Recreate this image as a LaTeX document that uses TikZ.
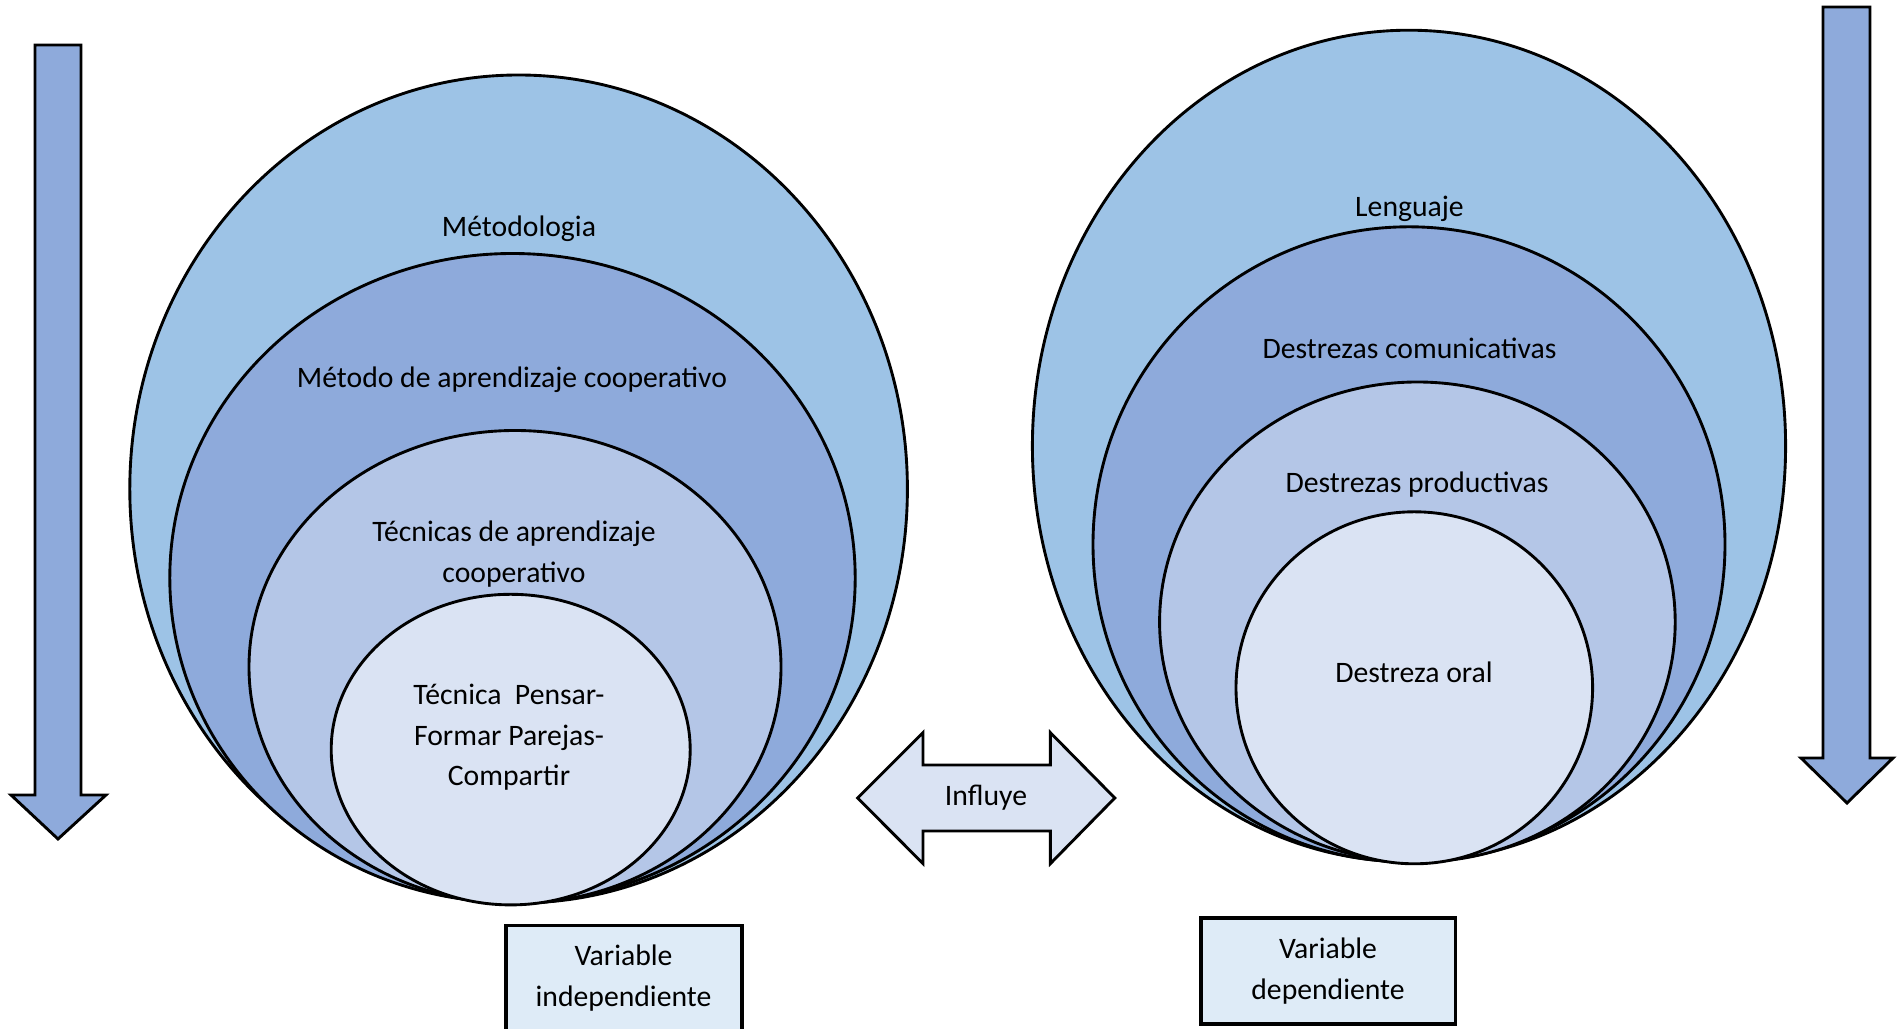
\documentclass[tikz,border=0pt]{standalone}
\usepackage{fontspec}
\setmainfont{Carlito}
\usetikzlibrary{calc}

\definecolor{skyblue}{HTML}{9DC3E6}
\definecolor{midblue}{HTML}{8EAADB}
\definecolor{paleblue}{HTML}{B4C6E7}
\definecolor{iceblue}{HTML}{DAE3F3}
\definecolor{boxblue}{HTML}{DEEBF7}

\begin{document}
\begin{tikzpicture}[x=0.33pt,y=-0.33pt,
	ring/.style={draw=black,line width=0.95pt},
	lbl/.style={font=\fontsize{9.8}{13.4}\selectfont,align=center,inner sep=0pt},
	varbox/.style={draw=black,line width=1pt,fill=boxblue}]
	\useasboundingbox (0,0) rectangle (1902,1029);

	% side arrows
	\filldraw[ring,fill=midblue] (35,45) -- (81,45) -- (81,795) -- (106,795) -- (58,839) -- (11,795) -- (35,795) -- cycle;
	\filldraw[ring,fill=midblue] (1823,7) -- (1870,7) -- (1870,758) -- (1893,758) -- (1847,803) -- (1801,758) -- (1823,758) -- cycle;

	% independent variable
	\filldraw[ring,fill=skyblue] (518.6,489) ellipse [x radius=388.8, y radius=414];
	\filldraw[ring,fill=midblue] (512.5,578) ellipse [x radius=342.7, y radius=324.5];
	\filldraw[ring,fill=paleblue] (515,667) ellipse [x radius=266, y radius=236.5];
	\filldraw[ring,fill=iceblue] (510.7,749.6) ellipse [x radius=179.5, y radius=155.3];
	\node[lbl] (metodologia) at (519,229) {Métodologia};
	\node[lbl] (metodo) at (512,380) {Método de aprendizaje cooperativo};
	\node[lbl] (tecnicas) at (514,554) {Técnicas de aprendizaje\\cooperativo};
	\node[lbl] (tecnica) at (509,737.5) {Técnica\ \ Pensar-\\Formar Parejas-\\Compartir};

	% dependent variable
	\filldraw[ring,fill=skyblue] (1409,446) ellipse [x radius=376.6, y radius=415.8];
	\filldraw[ring,fill=midblue] (1409,544.4) ellipse [x radius=316, y radius=317.6];
	\filldraw[ring,fill=paleblue] (1417.4,622) ellipse [x radius=257.8, y radius=240];
	\filldraw[ring,fill=iceblue] (1414.3,687.8) ellipse [x radius=178.3, y radius=176];
	\node[lbl] (lenguaje) at (1409.5,209) {Lenguaje};
	\node[lbl] (comunicativas) at (1409.5,348.5) {Destrezas comunicativas};
	\node[lbl] (productivas) at (1417,485) {Destrezas productivas};
	\node[lbl] (oral) at (1414,672.5) {Destreza oral};

	% influence arrow
	\filldraw[ring,fill=iceblue] (857.6,798) -- (923,732.7) -- (923,765) -- (1050.4,765) -- (1050.4,732.7) -- (1114.8,798)
		-- (1050.4,863.6) -- (1050.4,831) -- (923,831) -- (923,863.6) -- cycle;
	\node[lbl] (influye) at (986,798) {Influye};

	% variable boxes
	\filldraw[varbox] (506,925.5) rectangle (742,1035);
	\node[lbl] (indep) at (623.5,978) {Variable\\independiente};
	\filldraw[varbox] (1201,918) rectangle (1455.6,1024);
	\node[lbl] (dep) at (1328,971) {Variable\\dependiente};
\end{tikzpicture}
\end{document}
